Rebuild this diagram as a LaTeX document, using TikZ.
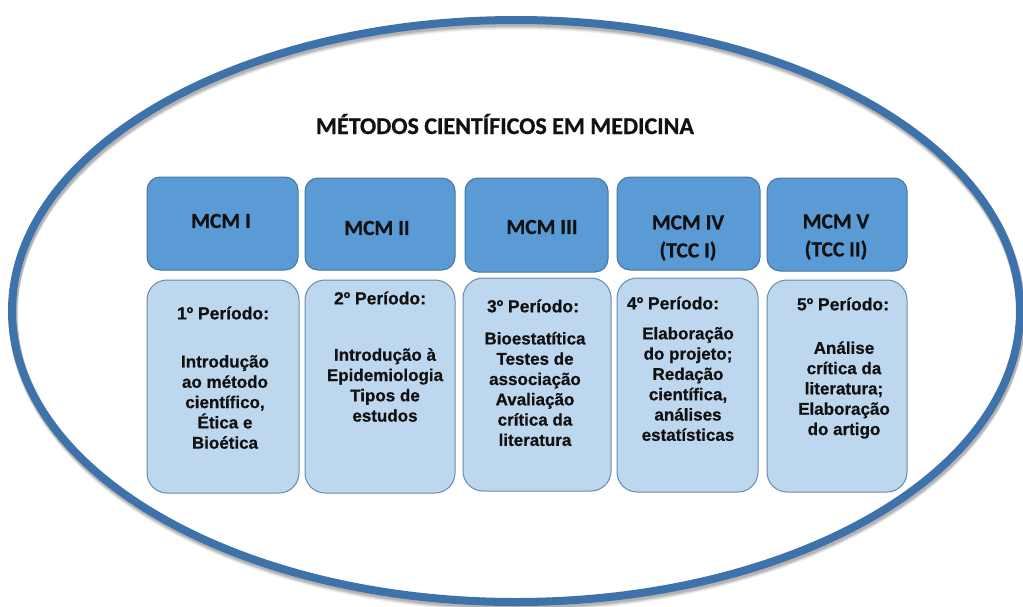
\documentclass[tikz,border=0pt]{standalone}
\usepackage{fontspec}
\setmainfont{Liberation Sans}[BoldFeatures={FakeBold=0.6}]
\newfontfamily\calib{Carlito}[BoldFeatures={FakeBold=0.7}]
\definecolor{ellc}{RGB}{62,114,170}
\definecolor{hdrfill}{RGB}{91,155,213}
\definecolor{hdrline}{RGB}{72,117,162}
\definecolor{cfill}{RGB}{189,215,238}
\definecolor{cline}{RGB}{104,138,172}
\definecolor{txt}{RGB}{17,17,17}
\begin{document}
\begin{tikzpicture}[x=1pt,y=-1pt,
  hdr/.style={draw=hdrline, line width=1pt, fill=hdrfill, rounded corners=13pt, inner sep=0pt},
  cbox/.style={draw=cline, line width=1pt, fill=cfill, rounded corners=20pt, inner sep=0pt},
  htxt/.style={font=\calib\bfseries\fontsize{21.5}{28}\selectfont, text=txt, align=center, inner sep=0pt},
  ptxt/.style={font=\bfseries\fontsize{17.5}{21}\selectfont, text=txt, inner sep=0pt},
  btxt/.style={font=\bfseries\fontsize{17}{20.3}\selectfont, text=txt, align=center, inner sep=0pt}]
\useasboundingbox (0,0) rectangle (1023,606);
\fill[white] (0,0) rectangle (1023,606);
% ellipse with soft shadow
\foreach \d/\o in {5/0.05,4/0.07,3/0.09,2/0.11} {
  \draw[black, opacity=\o, line width=9pt] (517,311+\d) ellipse [x radius=504pt, y radius=291pt];
}
\draw[ellc, line width=8pt] (516,311) ellipse [x radius=504pt, y radius=291pt];
% title
\node[font=\calib\bfseries\fontsize{24}{28}\selectfont, text=txt, inner sep=0pt] (title) at (505,124) {MÉTODOS CIENTÍFICOS EM MEDICINA};
% header boxes
\node[hdr, minimum width=151pt, minimum height=93pt] (h1) at (222.5,223.5) {};
\node[hdr, minimum width=150pt, minimum height=92pt] (h2) at (380,224) {};
\node[hdr, minimum width=143pt, minimum height=94pt] (h3) at (536.5,225) {};
\node[hdr, minimum width=143pt, minimum height=93pt] (h4) at (688.5,223.5) {};
\node[hdr, minimum width=140pt, minimum height=93pt] (h5) at (837,224.5) {};
% content boxes
\node[cbox, minimum width=152pt, minimum height=213pt] (c1) at (223,386.5) {};
\node[cbox, minimum width=150pt, minimum height=213pt] (c2) at (380,386.5) {};
\node[cbox, minimum width=148pt, minimum height=213pt] (c3) at (537,384.5) {};
\node[cbox, minimum width=141pt, minimum height=214pt] (c4) at (687.5,385) {};
\node[cbox, minimum width=140pt, minimum height=212pt] (c5) at (837,386) {};
% header texts
\node[htxt] (ht1) at (221,221) {MCM I};
\node[htxt] (ht2) at (377,228) {MCM II};
\node[htxt] (ht3) at (542,227) {MCM III};
\node[htxt] (ht4) at (688,238) {MCM IV\\(TCC I)};
\node[htxt] (ht5) at (836,237) {MCM V\\(TCC II)};
% period labels
\node[ptxt] (p1) at (223,313) {1º Período:};
\node[ptxt] (p2) at (380,298) {2º Período:};
\node[ptxt] (p3) at (533,306) {3º Período:};
\node[ptxt] (p4) at (673,303) {4º Período:};
\node[ptxt] (p5) at (843,304) {5º Período:};
% body texts
\node[btxt] (b1) at (225,402) {Introdução\\ao método\\científico,\\Ética e\\Bioética};
\node[btxt] (b2) at (385,385) {Introdução à\\Epidemiologia\\Tipos de\\estudos};
\node[btxt] (b3) at (535,389) {Bioestatítica\\Testes de\\associação\\Avaliação\\crítica da\\literatura};
\node[btxt] (b4) at (688,384) {Elaboração\\do projeto;\\Redação\\científica,\\análises\\estatísticas};
\node[btxt] (b5) at (844,390) {Análise\\crítica da\\literatura;\\Elaboração\\do artigo};
\end{tikzpicture}
\end{document}
